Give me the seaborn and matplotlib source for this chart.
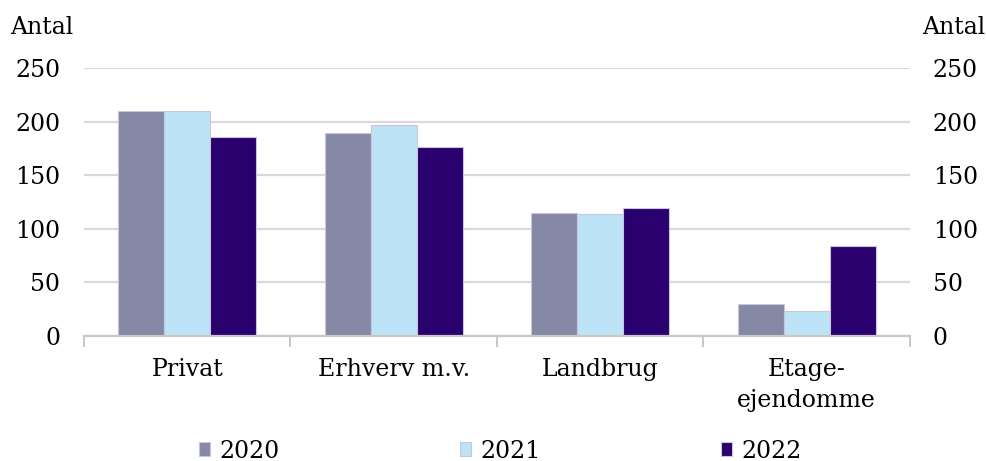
import pandas as pd
import matplotlib
matplotlib.use("Agg")
import matplotlib.pyplot as plt
from matplotlib.ticker import FixedLocator
import seaborn as sns

# -----------------------------
# Data
# -----------------------------
categories = ["Privat", "Erhverv m.v.", "Landbrug", "Etage-\nejendomme"]
years = ["2020", "2021", "2022"]
values_2020 = [210, 189, 115, 30]
values_2021 = [210, 197, 114, 23]
values_2022 = [186, 176, 119, 84]
colors = ["#8589A6", "#BDE3F6", "#2A006E"]
y_ticks = [0, 50, 100, 150, 200, 250]

df = pd.DataFrame({
    "kategori": categories * 3,
    "aar": [y for y in years for _ in categories],
    "antal": values_2020 + values_2021 + values_2022,
})

# -----------------------------
# Style
# -----------------------------
sns.set_theme(style="white")
plt.rcParams["font.family"] = ["DejaVu Serif"]
plt.rcParams["text.color"] = "black"
plt.rcParams["xtick.color"] = "black"
plt.rcParams["ytick.color"] = "black"
fs = 17

fig = plt.figure(figsize=(9.87, 4.61), dpi=100)
ax = fig.add_axes([84 / 987, 1 - 336 / 461, 826 / 987, 268 / 461])

sns.barplot(data=df, x="kategori", y="antal", hue="aar", palette=colors,
            width=0.67, saturation=1, edgecolor="#C9C5DD", linewidth=0.8,
            ax=ax)

ax.set_xlim(-0.5, 3.5)
ax.set_ylim(0, 250)
ax.set_xlabel("")
ax.set_ylabel("")
ax.set_yticks(y_ticks)
ax.grid(axis="y", color="#D9D9D9", linewidth=1.6)
ax.set_axisbelow(True)
for side in ["left", "right", "top"]:
    ax.spines[side].set_visible(False)
ax.spines["bottom"].set_color("#C8C8C8")
ax.spines["bottom"].set_linewidth(1.6)

ax.xaxis.set_minor_locator(FixedLocator([-0.5, 0.5, 1.5, 2.5, 3.5]))
ax.tick_params(axis="x", which="major", length=0, pad=16, labelsize=fs)
ax.tick_params(axis="x", which="minor", length=8, width=1.4,
               color="#C8C8C8", direction="out", bottom=True)
ax.tick_params(axis="y", length=0, pad=17, labelsize=fs)
for lbl in ax.get_xticklabels():
    lbl.set_linespacing(1.45)

ax2 = ax.twinx()
ax2.set_ylim(0, 250)
ax2.set_yticks(y_ticks)
ax2.tick_params(axis="y", length=0, pad=16.5, labelsize=fs)
for side in ["left", "right", "top", "bottom"]:
    ax2.spines[side].set_visible(False)

fig.text(10 / 987, 1 - 28 / 461, "Antal", fontsize=fs, ha="left", va="center")
fig.text(985 / 987, 1 - 28 / 461, "Antal", fontsize=fs, ha="right", va="center")

handles, labels = ax.get_legend_handles_labels()
ax.get_legend().remove()
fig.legend(handles, labels, loc="center", bbox_to_anchor=(0.507, 1 - 451 / 461),
           ncol=3, frameon=False, fontsize=fs, handlelength=0.5,
           handleheight=0.5, handletextpad=0.4, columnspacing=7.6)

fig.savefig("out.png", dpi=100)
